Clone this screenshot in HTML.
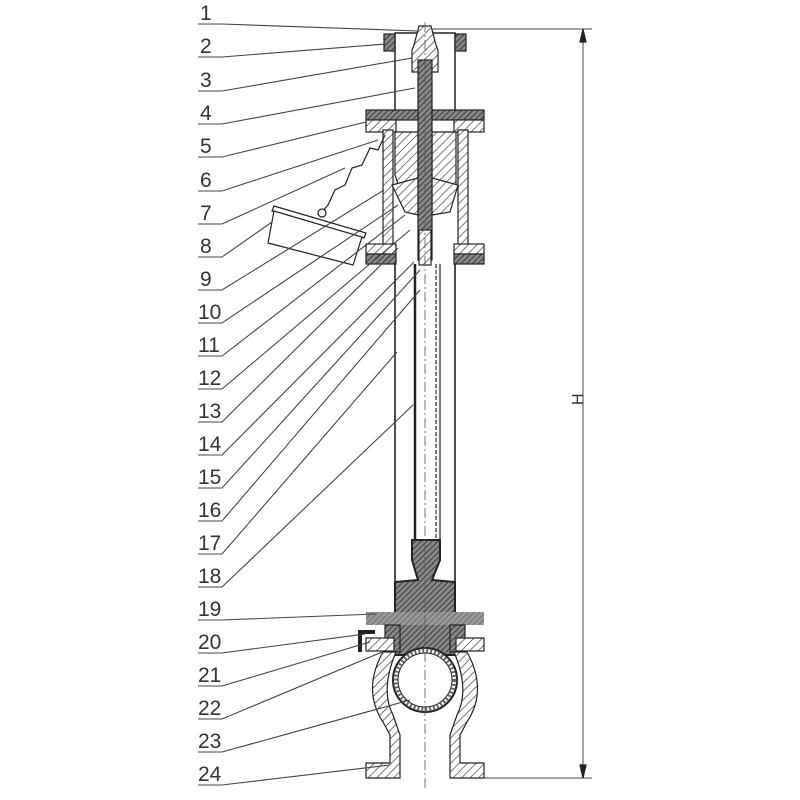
<!DOCTYPE html>
<html><head><meta charset="utf-8"><style>
html,body{margin:0;padding:0;background:#fff}
svg{display:block}
text{font-family:"Liberation Sans",sans-serif;font-size:21px;fill:#333}
</style></head><body>
<svg width="800" height="800" viewBox="0 0 800 800" xmlns="http://www.w3.org/2000/svg">
<defs>
<pattern id="h" width="6" height="6" patternUnits="userSpaceOnUse" patternTransform="rotate(45)"><rect width="6" height="6" fill="#fff"/><line x1="0" y1="0" x2="0" y2="6" stroke="#333" stroke-width="1.3"/></pattern>
<pattern id="hd" width="4" height="4" patternUnits="userSpaceOnUse" patternTransform="rotate(45)"><rect width="4" height="4" fill="#888"/><line x1="0" y1="0" x2="0" y2="4" stroke="#222" stroke-width="1.5"/></pattern>
<pattern id="hg" width="4" height="4" patternUnits="userSpaceOnUse" patternTransform="rotate(45)"><rect width="4" height="4" fill="#999"/><line x1="0" y1="0" x2="0" y2="4" stroke="#555" stroke-width="1.2"/></pattern>
</defs>
<rect width="800" height="800" fill="#fff"/>
<g stroke="#222" stroke-width="1.2" fill="none">
<line x1="425" y1="29" x2="592" y2="29" stroke="#444" stroke-width="1"/>
<line x1="460" y1="778" x2="592" y2="778" stroke="#444" stroke-width="1"/>
<line x1="583" y1="29" x2="583" y2="778" stroke="#444" stroke-width="1"/>
<polygon points="583,29 580,42 586,42" fill="#222"/>
<polygon points="583,778 580,765 586,765" fill="#222"/>
<rect x="395" y="33" width="60" height="85" fill="#fff" stroke-width="1.5"/>
<rect x="384" y="34" width="11" height="17" fill="url(#hd)"/>
<rect x="455" y="34" width="11" height="17" fill="url(#hd)"/>
<polygon points="419,26 431,26 436,45 438,50 438,72 412,72 412,50 414,45" fill="url(#h)"/>
<rect x="366" y="110" width="118" height="10" fill="url(#hd)"/>
<rect x="366" y="120" width="30" height="12" fill="url(#h)"/>
<rect x="454" y="120" width="30" height="12" fill="url(#h)"/>
<rect x="383" y="130" width="10" height="120" fill="url(#h)"/>
<rect x="458" y="130" width="10" height="120" fill="url(#h)"/>
<polygon points="395,132 418,132 418,195 400,190 395,175" fill="url(#h)"/>
<polygon points="432,132 456,132 456,190 440,195 432,190" fill="url(#h)"/>
<polygon points="392,185 418,178 418,215 405,212" fill="url(#h)"/>
<polygon points="432,178 458,185 450,212 432,215" fill="url(#h)"/>
<rect x="366" y="244" width="30" height="10" fill="url(#h)"/>
<rect x="454" y="244" width="30" height="10" fill="url(#h)"/>
<rect x="366" y="254" width="30" height="10" fill="url(#hd)"/>
<rect x="454" y="254" width="30" height="10" fill="url(#hd)"/>
<rect x="418" y="60" width="14" height="200" fill="url(#hd)"/>
<rect x="419" y="230" width="12" height="35" fill="url(#h)"/>
<line x1="395" y1="264" x2="395" y2="585" stroke-width="1.6"/>
<line x1="455" y1="264" x2="455" y2="585" stroke-width="1.6"/>
<line x1="415" y1="264" x2="415" y2="540" stroke-width="2.5"/>
<line x1="436" y1="264" x2="436" y2="540" stroke-dasharray="4,2"/>
<line x1="440" y1="264" x2="440" y2="540"/>
<polygon points="412,540 440,540 440,560 432,580 455,582 455,655 395,655 395,582 418,580 412,560" fill="url(#hd)" stroke-width="2"/>
<rect x="366" y="612" width="118" height="13" fill="url(#hg)" stroke="none"/>
<rect x="385" y="625" width="15" height="27" fill="url(#hd)"/>
<rect x="450" y="625" width="15" height="27" fill="url(#hd)"/>
<path d="M375,632 L360,632 L360,652" stroke-width="4"/>
<rect x="366" y="638" width="28" height="13" fill="url(#h)"/>
<rect x="456" y="638" width="28" height="13" fill="url(#h)"/>
<path d="M383,652 Q362,690 383,722 L390,735 L390,763 L366,763 L366,778 L400,778 L400,735 L393,715 Q380,690 396,652 Z" fill="url(#h)"/>
<path d="M467,652 Q488,690 467,722 L460,735 L460,763 L484,763 L484,778 L450,778 L450,735 L457,715 Q470,690 454,652 Z" fill="url(#h)"/>
<circle cx="425" cy="680" r="32" fill="#fff" stroke="#222" stroke-width="2"/>
<circle cx="425" cy="680" r="27" fill="none" stroke="#222" stroke-width="1"/>
<circle cx="425" cy="680" r="29.5" fill="none" stroke="#666" stroke-width="4" stroke-dasharray="2,2"/>
<line x1="425" y1="22" x2="425" y2="790" stroke="#555" stroke-width="0.8" stroke-dasharray="10,3,2,3"/>
<polyline points="385,135 378,150 370,148 362,165 352,168 345,185 335,190 328,205 322,212" stroke-width="1.2"/>
<circle cx="322" cy="213" r="4" fill="#fff"/>
<polygon points="274,206 366,233 364,238 272,211" fill="#fff"/>
<polygon points="274,211 268,243 353,265 362,237" fill="#fff"/>
</g>
<g>
<text x="200" y="20">1</text><text x="200" y="53">2</text><text x="200" y="87">3</text><text x="200" y="120">4</text>
<text x="200" y="153">5</text><text x="200" y="187">6</text><text x="200" y="220">7</text><text x="200" y="253">8</text>
<text x="200" y="286">9</text><text x="198" y="319">10</text><text x="198" y="352">11</text><text x="198" y="385">12</text>
<text x="198" y="418">13</text><text x="198" y="451">14</text><text x="198" y="484">15</text><text x="198" y="517">16</text>
<text x="198" y="550">17</text><text x="198" y="583">18</text><text x="198" y="616">19</text><text x="198" y="649">20</text>
<text x="198" y="682">21</text><text x="198" y="715">22</text><text x="198" y="748">23</text><text x="198" y="781">24</text>
<text x="578" y="410" transform="rotate(-90 578 405)" style="font-size:16px">H</text>
</g>
<g stroke="#444" stroke-width="1.1" fill="none">
<path d="M198,24H222L418,31"/><path d="M198,57H222L386,44"/><path d="M198,91H222L412,58"/>
<path d="M198,124H222L415,88"/><path d="M198,157H222L366,122"/><path d="M198,191H222L378,140"/>
<path d="M198,224H222L345,168"/><path d="M198,257H222L272,222"/><path d="M198,290H222L384,190"/>
<path d="M198,323H222L398,205"/><path d="M198,356H222L405,215"/><path d="M198,389H222L410,230"/>
<path d="M198,422H222L398,248"/><path d="M198,455H222L414,262"/><path d="M198,488H222L420,270"/>
<path d="M198,521H222L420,290"/><path d="M198,554H222L397,352"/><path d="M198,587H222L413,405"/>
<path d="M198,620H222L376,614"/><path d="M198,653H222L365,634"/><path d="M198,686H222L370,642"/>
<path d="M198,719H222L382,652"/><path d="M198,752H222L410,700"/><path d="M198,785H222L390,765"/>
</g>
</svg>
</body></html>
